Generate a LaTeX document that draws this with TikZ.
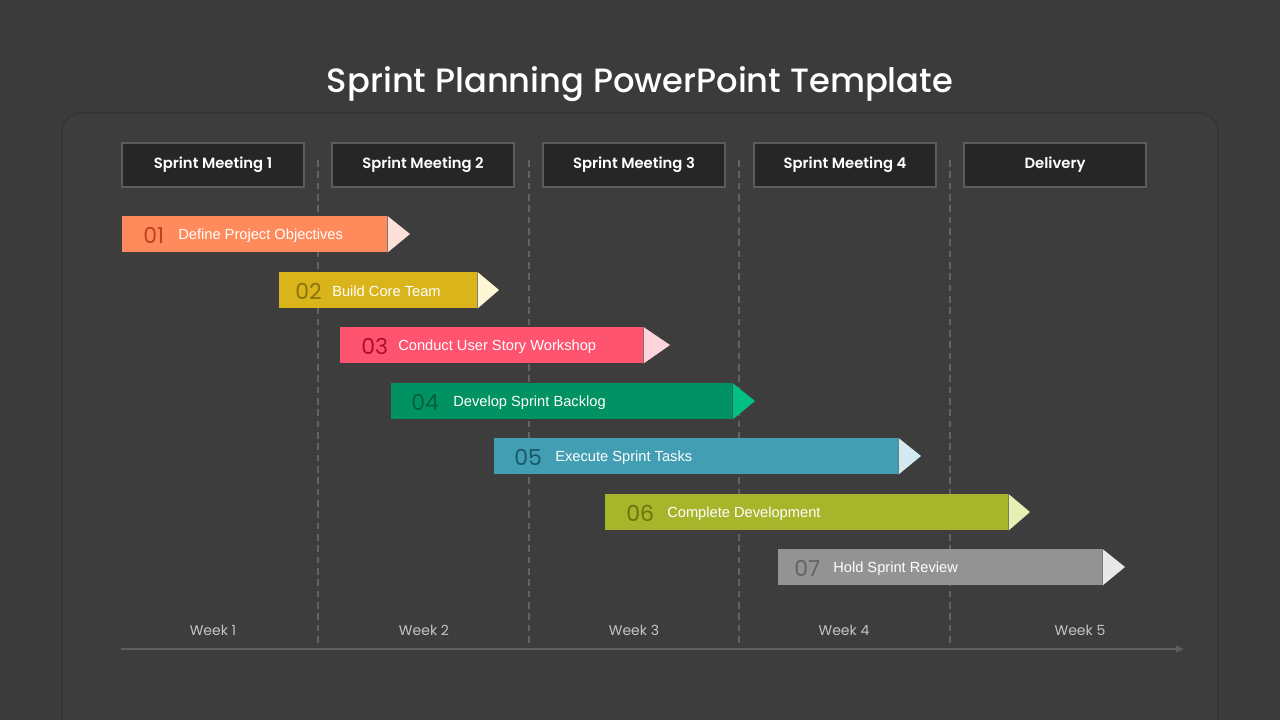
\documentclass[tikz,border=0pt]{standalone}
\usepackage{fontspec}
\setmainfont{Liberation Sans}
\newfontfamily\popp{Poppins}
\IfFontExistsTF{Poppins Medium}{\newfontfamily\poppmid{Poppins Medium}}{\newfontfamily\poppmid{Poppins}}
\IfFontExistsTF{Poppins SemiBold}{\newfontfamily\popphvy{Poppins SemiBold}}{\newfontfamily\popphvy{Poppins}}
\usetikzlibrary{arrows.meta}
\definecolor{bgc}{HTML}{3B3B3B}
\definecolor{panelc}{HTML}{3D3D3D}
\definecolor{panelline}{HTML}{353535}
\definecolor{hdrfill}{HTML}{262626}
\definecolor{hdrline}{HTML}{5C5C5C}
\definecolor{gridc}{HTML}{626262}
\definecolor{weekc}{HTML}{C4C4C4}
\definecolor{axisc}{HTML}{5E5E5E}
\definecolor{mA}{HTML}{FF8A5B}\definecolor{tA}{HTML}{FDE0DA}\definecolor{nA}{HTML}{C2401A}
\definecolor{mB}{HTML}{D9B41A}\definecolor{tB}{HTML}{FFF6D6}\definecolor{nB}{HTML}{8A7310}
\definecolor{mC}{HTML}{FF5470}\definecolor{tC}{HTML}{FFD3DB}\definecolor{nC}{HTML}{AE0F2A}
\definecolor{mD}{HTML}{009262}\definecolor{tD}{HTML}{00C183}\definecolor{nD}{HTML}{005F3F}
\definecolor{mE}{HTML}{429EB3}\definecolor{tE}{HTML}{D2EAF0}\definecolor{nE}{HTML}{1C5868}
\definecolor{mF}{HTML}{A6B52A}\definecolor{tF}{HTML}{E6F0B2}\definecolor{nF}{HTML}{6A7512}
\definecolor{mG}{HTML}{939393}\definecolor{tG}{HTML}{E8E8E8}\definecolor{nG}{HTML}{636363}
\tikzset{
  hdrbox/.style={draw=hdrline, line width=1.4pt, fill=hdrfill, minimum width=136.5pt, minimum height=33pt, inner sep=0pt, text=white, font=\popphvy\fontsize{11.1}{13}\selectfont},
  gridline/.style={draw=gridc, line width=1.1pt, dash pattern=on 5pt off 3.5pt},
  barbox/.style={inner sep=0pt, anchor=north west, minimum height=27pt},
  numtxt/.style={anchor=west, inner sep=0pt, font=\popp\fontsize{16.5}{19}\selectfont},
  labtxt/.style={anchor=west, inner sep=0pt, text=white, font=\fontsize{11}{13}\selectfont},
  weektxt/.style={inner sep=0pt, text=weekc, font=\popp\fontsize{10.5}{12}\selectfont},
}
\begin{document}
\begin{tikzpicture}[x=0.75pt,y=-0.75pt]
\useasboundingbox (0,0) rectangle (1280,720);
\clip (0,0) rectangle (1280,720);
\fill[bgc] (0,0) rectangle (1280,720);
\draw[panelline, line width=1.2pt, fill=panelc, rounded corners=14pt] (62,113) rectangle (1218,760);
\node[text=white, font=\poppmid\fontsize{25.3}{30}\selectfont, inner sep=0pt] (title) at (640,84) {Sprint Planning PowerPoint Template};
% grid lines
\foreach \gx [count=\k] in {318,529,739,950}{
  \coordinate (g\k a) at (\gx,160);
  \coordinate (g\k b) at (\gx,645);
  \draw[gridline] (g\k a) -- (g\k b);
}
% headers
\foreach \hx/\htxt [count=\k] in {213/Sprint Meeting 1,423/Sprint Meeting 2,634/Sprint Meeting 3,845/Sprint Meeting 4,1055/Delivery}{
  \node[hdrbox] (h\k) at (\hx,165) {\raisebox{-1.2pt}{\htxt}};
}
% bars
\foreach \xa/\xb/\xt/\yt/\cid/\nnum/\xn/\xl/\ltxt [count=\k] in {
  122/387/410/216/A/01/143/178/Define Project Objectives,
  279/477/499/272/B/02/295/332/Build Core Team,
  340/643/670/327/C/03/361/398/Conduct User Story Workshop,
  391/732/755/383/D/04/411/453/Develop Sprint Backlog,
  494/898/921/438/E/05/514/555/Execute Sprint Tasks,
  605/1008/1030/494/F/06/626/667/Complete Development,
  778/1102/1125/549/G/07/794/833/Hold Sprint Review}{
  \pgfmathsetmacro{\bw}{(\xb-\xa)*0.75}
  \node[barbox, fill=m\cid, minimum width=\bw pt] (bar\k) at (\xa,\yt) {};
  \coordinate (tip\k) at (\xt,\yt+18);
  \fill[t\cid] (bar\k.north east) -- (tip\k) -- (bar\k.south east) -- cycle;
  \node[numtxt, text=n\cid] (num\k) at (\xn,\yt+19.5) {\nnum};
  \node[labtxt] (lab\k) at (\xl,\yt+19.5) {\ltxt};
}
% weeks
\foreach \wx [count=\k] in {213,424,634,844,1080}{
  \node[weektxt] (w\k) at (\wx,630.5) {Week \k};
}
\coordinate (ax0) at (121,649);
\coordinate (ax1) at (1184,649);
\draw[axisc, line width=1.5pt, -{Triangle[length=6pt,width=5pt]}] (ax0) -- (ax1);
\end{tikzpicture}
\end{document}
